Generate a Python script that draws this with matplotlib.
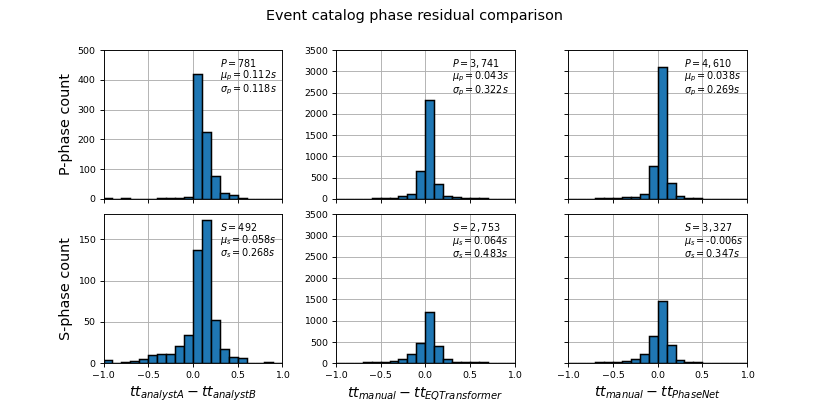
import numpy as np
import matplotlib
matplotlib.use("Agg")
import matplotlib.pyplot as plt

bin_edges = np.round(np.arange(-1.0, 1.0001, 0.1), 2)

# counts per 0.1 s bin from -1.0 to 1.0
p_analyst = [2, 0, 2, 0, 1, 1, 2, 3, 4, 7, 421, 226, 77, 21, 13, 3, 1, 0, 1, 0]
s_analyst = [4, 0, 2, 3, 5, 10, 11, 11, 21, 34, 137, 173, 52, 17, 8, 6, 0, 0, 2, 0]
p_eqt = [4, 4, 6, 8, 12, 16, 25, 60, 115, 661, 2330, 362, 77, 46, 30, 22, 12, 8, 6, 4]
s_eqt = [10, 10, 15, 20, 25, 35, 55, 94, 219, 484, 1203, 414, 94, 40, 30, 30, 25, 15, 10, 8]
p_pn = [5, 5, 10, 15, 15, 25, 45, 55, 109, 766, 3109, 375, 78, 30, 15, 8, 5, 5, 5, 5]
s_pn = [8, 8, 12, 20, 25, 39, 63, 102, 228, 636, 1460, 424, 71, 31, 20, 15, 10, 8, 5, 5]

p_text = [r"$P = 781$" "\n" r"$\mu_p = 0.112s$" "\n" r"$\sigma_p = 0.118s$",
          r"$P = 3,741$" "\n" r"$\mu_p = 0.043s$" "\n" r"$\sigma_p = 0.322s$",
          r"$P = 4,610$" "\n" r"$\mu_p = 0.038s$" "\n" r"$\sigma_p = 0.269s$"]
s_text = [r"$S = 492$" "\n" r"$\mu_s = 0.058s$" "\n" r"$\sigma_s = 0.268s$",
          r"$S = 2,753$" "\n" r"$\mu_s = 0.064s$" "\n" r"$\sigma_s = 0.483s$",
          r"$S = 3,327$" "\n" r"$\mu_s = $-$0.006s$" "\n" r"$\sigma_s = 0.347s$"]
xlabels = [r"$tt_{analystA} - tt_{analystB}$",
           r"$tt_{manual} - tt_{EQTransformer}$",
           r"$tt_{manual} - tt_{PhaseNet}$"]

top_counts = [p_analyst, p_eqt, p_pn]
bot_counts = [s_analyst, s_eqt, s_pn]
top_ylim = [500, 3500, 3500]
bot_ylim = [180, 3500, 3500]

fig, axes = plt.subplots(2, 3, figsize=(10, 5), dpi=83, sharex=True)
fig.subplots_adjust(left=0.1247, right=0.9, top=0.8795, bottom=0.1246,
                    wspace=0.3, hspace=0.103)

for row, (counts_list, texts, ylims) in enumerate(
        [(top_counts, p_text, top_ylim), (bot_counts, s_text, bot_ylim)]):
    for col in range(3):
        ax = axes[row, col]
        ax.set_axisbelow(True)
        ax.hist(bin_edges[:-1], bins=bin_edges, weights=counts_list[col],
                color="#1f77b4", edgecolor="black", linewidth=1.3)
        ax.grid(True, color="#b0b0b0", linewidth=0.8)
        ax.set_xlim(-1.0, 1.0)
        ax.set_ylim(0, ylims[col])
        ax.set_xticks([-1.0, -0.5, 0.0, 0.5, 1.0])
        ax.tick_params(labelsize=8.1)
        ax.text(0.65, 0.955, texts[col], transform=ax.transAxes,
                va="top", ha="left", fontsize=8.3, linespacing=0.95)
        if col == 2:
            ax.tick_params(labelleft=False)
        if row == 1:
            ax.set_xlabel(xlabels[col], fontsize=12.4)

axes[0, 0].set_ylabel("P-phase count", fontsize=12.5)
axes[1, 0].set_ylabel("S-phase count", fontsize=12.5)
axes[0, 0].set_yticks(range(0, 501, 100))
axes[1, 0].set_yticks(range(0, 151, 50))
for ax in [axes[0, 1], axes[0, 2], axes[1, 1], axes[1, 2]]:
    ax.set_yticks(range(0, 3501, 500))

fig.suptitle("Event catalog phase residual comparison", fontsize=12.45, y=0.979)
fig.savefig("out.png", dpi=83)
